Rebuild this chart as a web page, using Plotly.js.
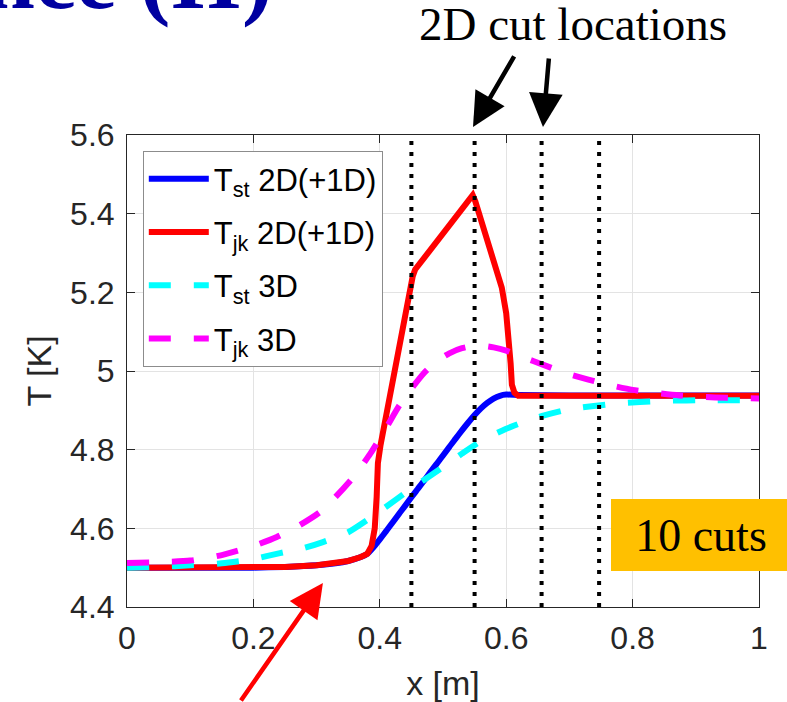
<!DOCTYPE html>
<html>
<head>
<meta charset="utf-8">
<script src="https://cdn.plot.ly/plotly-3.0.1.min.js"></script>
<style>html,body{margin:0;padding:0;background:#fff;}#chart{width:787px;height:702px;}</style>
</head>
<body>
<div id="chart"></div>
<script>
// T_st 2D(+1D)
const st2dX = [0,0.1,0.2,0.25,0.3,0.33,0.35,0.37,0.38,0.39,0.40,0.41,0.42,0.43,0.44,0.45,0.46,0.47,0.48,0.49,0.50,0.51,0.52,0.53,0.54,0.55,0.56,0.57,0.58,0.59,0.60,0.62,0.7,0.8,0.9,1.0];
const st2dY = [4.5,4.5,4.5,4.502,4.506,4.511,4.517,4.527,4.535,4.552,4.572,4.593,4.614,4.636,4.657,4.679,4.70,4.721,4.743,4.764,4.785,4.807,4.828,4.849,4.869,4.888,4.905,4.919,4.93,4.937,4.94,4.939,4.938,4.938,4.938,4.938];
// T_jk 2D(+1D)
const jk2dX = [0,0.1,0.2,0.25,0.3,0.33,0.35,0.37,0.38,0.387,0.392,0.395,0.397,0.401,0.405,0.411,0.42,0.432,0.445,0.452,0.456,0.5,0.547,0.551,0.559,0.571,0.585,0.593,0.6,0.604,0.607,0.609,0.613,0.619,0.7,0.8,0.9,1.0];
const jk2dY = [4.5,4.5,4.5,4.502,4.506,4.511,4.517,4.527,4.535,4.555,4.6,4.68,4.766,4.81,4.845,4.895,4.97,5.06,5.18,5.24,5.258,5.35,5.447,5.432,5.388,5.326,5.255,5.212,5.147,5.09,5.02,4.965,4.945,4.937,4.937,4.937,4.937,4.937];
// T_st 3D
const st3dX = [0,0.05,0.1,0.15,0.2,0.242,0.28,0.31,0.35,0.38,0.41,0.44,0.47,0.5,0.53,0.562,0.6,0.627,0.66,0.701,0.775,0.848,0.922,1];
const st3dY = [4.5,4.502,4.506,4.511,4.522,4.537,4.55,4.565,4.59,4.621,4.655,4.69,4.723,4.756,4.79,4.824,4.853,4.87,4.887,4.903,4.917,4.924,4.926,4.925];
// T_jk 3D
const jk3dX = [0,0.05,0.1,0.15,0.2,0.237,0.27,0.305,0.33,0.358,0.385,0.411,0.43,0.45,0.47,0.49,0.51,0.53,0.555,0.58,0.6,0.625,0.66,0.693,0.73,0.767,0.8,0.838,0.874,0.911,0.95,1];
const jk3dY = [4.512,4.514,4.518,4.532,4.555,4.578,4.605,4.641,4.68,4.73,4.79,4.858,4.91,4.955,4.995,5.025,5.045,5.058,5.065,5.06,5.052,5.036,5.015,4.995,4.978,4.963,4.952,4.944,4.938,4.934,4.932,4.93];
// 2D cut locations
const cutX = [0.45,0.55,0.656,0.747];
const yRange = [4.4,5.6];
const xTicks = [0,0.2,0.4,0.6,0.8,1];
const yTicks = [4.4,4.6,4.8,5,5.2,5.4,5.6];
const names = ['T<sub>st</sub> 2D(+1D)','T<sub>jk</sub> 2D(+1D)','T<sub>st</sub> 3D','T<sub>jk</sub> 3D'];

const traces = [
  {x: st2dX, y: st2dY, mode:'lines', name:names[0], legendgroup:'a', line:{color:'#0000ff', width:6, shape:'spline', smoothing:0.6}},
  {x: jk2dX, y: jk2dY, mode:'lines', name:names[1], legendgroup:'b', line:{color:'#ff0000', width:6}},
  {x: st3dX, y: st3dY, mode:'lines', name:names[2], legendgroup:'c', line:{color:'#00ffff', width:6, dash:'22px,23px', shape:'spline', smoothing:0.6}},
  {x: jk3dX, y: jk3dY, mode:'lines', name:names[3], legendgroup:'d', line:{color:'#ff00ff', width:6, dash:'22px,23px', shape:'spline', smoothing:0.6}}
];
cutX.forEach(c => traces.push({x:[c,c], y:yRange, mode:'lines', showlegend:false, hoverinfo:'skip', line:{color:'#000', width:4, dash:'4px,7px'}}));

const axisFont = {family:'Liberation Sans, Arial, sans-serif', size:32, color:'#262626'};
const layout = {
  width:787, height:702,
  margin:{l:127, r:28, t:135, b:95},
  paper_bgcolor:'#fff', plot_bgcolor:'#fff',
  showlegend:true,
  legend:{x:0.025, y:0.966, xanchor:'left', yanchor:'top', bgcolor:'#fff', bordercolor:'#8c8c8c', borderwidth:1,
          traceorder:'grouped', tracegroupgap:10,
          font:{family:'Liberation Sans, Arial, sans-serif', size:31, color:'#000'}, itemwidth:60},
  xaxis:{range:[0,1], tickvals:xTicks, ticks:'inside', ticklen:8, tickcolor:'#262626', showline:true, linecolor:'#262626', linewidth:1,
         mirror:'ticks', showgrid:true, gridcolor:'#e3e3e3', gridwidth:1, zeroline:false, tickfont:axisFont, ticklabelstandoff:3,
         title:{text:'x [m]', font:{family:'Liberation Sans, Arial, sans-serif', size:34, color:'#262626'}, standoff:15}},
  yaxis:{range:yRange, tickvals:yTicks, ticks:'inside', ticklen:8, tickcolor:'#262626', showline:true, linecolor:'#262626', linewidth:1,
         mirror:'ticks', showgrid:true, gridcolor:'#e3e3e3', gridwidth:1, zeroline:false, tickfont:axisFont, ticklabelstandoff:5,
         title:{text:'T [K]', font:{family:'Liberation Sans, Arial, sans-serif', size:34, color:'#262626'}, standoff:8}},
  annotations:[
    {xref:'paper', yref:'paper', x:0.234, y:1.2227, xanchor:'right', yanchor:'bottom', showarrow:false,
     text:'<b>ence (II)</b>', font:{family:'Liberation Serif, Times New Roman, serif', size:92, color:'#0000a0'}},
    {xref:'paper', yref:'paper', x:0.705, y:1.1758, xanchor:'center', yanchor:'bottom', showarrow:false,
     text:'2D cut locations', font:{family:'Liberation Serif, Times New Roman, serif', size:47, color:'#000'}},
    {xref:'paper', yref:'paper', x:0.5475, y:1.017, ax:42, ay:-72, showarrow:true, text:'', arrowhead:2, arrowsize:1.5, arrowwidth:4.5, arrowcolor:'#000'},
    {xref:'paper', yref:'paper', x:0.6582, y:1.017, ax:6, ay:-70, showarrow:true, text:'', arrowhead:2, arrowsize:1.5, arrowwidth:4.5, arrowcolor:'#000'},
    {xref:'paper', yref:'paper', x:0.31, y:0.051, ax:-83, ay:130, showarrow:true, text:'', arrowhead:2, arrowsize:1.5, arrowwidth:4.5, arrowcolor:'#ff0000'},
    {xref:'paper', yref:'paper', x:0.7658, y:0.2288, xanchor:'left', yanchor:'top', showarrow:false, width:180, height:72,
     borderpad:0, borderwidth:0, bgcolor:'#ffc000', align:'center', valign:'middle',
     text:'10 cuts', font:{family:'Liberation Serif, Times New Roman, serif', size:46, color:'#000'}}
  ]
};
Plotly.newPlot('chart', traces, layout, {displayModeBar:false, staticPlot:true});
</script>
</body>
</html>
